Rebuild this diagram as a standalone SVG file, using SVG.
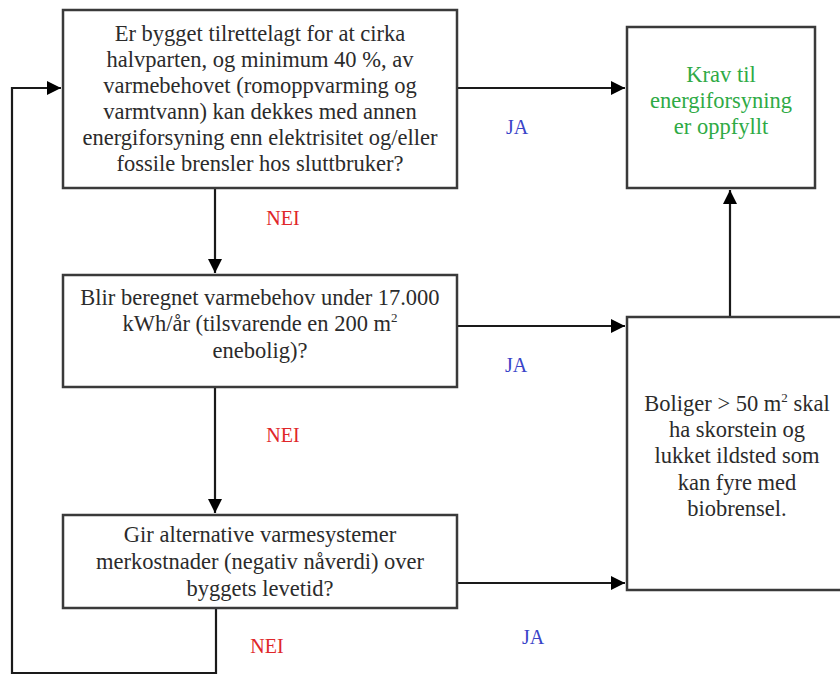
<svg xmlns="http://www.w3.org/2000/svg" width="840" height="675" viewBox="0 0 840 675">
<style>
.box{fill:#fff;stroke:#3a3a3a;stroke-width:2.5}
text{font-family:'Liberation Serif','DejaVu Serif','Times New Roman',serif}
.t{font-size:22.5px;fill:#2b2b2b;text-anchor:middle}
.g{fill:#2eaa45}
.ja{font-size:20px;fill:#3a44c8;text-anchor:middle}
.nei{font-size:20px;fill:#e0262a;text-anchor:middle}
.c{fill:none;stroke:#1a1a1a;stroke-width:2.2}
</style>
<defs>
<marker id="a" viewBox="0 0 12 12" refX="12" refY="6" markerWidth="14" markerHeight="14" markerUnits="userSpaceOnUse" orient="auto">
<path d="M0,0 L12,6 L0,12 z" fill="#000"/>
</marker>
</defs>
<rect width="840" height="675" fill="#fff"/>
<g id="connectors">
<path class="c" d="M457,88 H625" marker-end="url(#a)"/>
<path class="c" d="M215,188 V273" marker-end="url(#a)"/>
<path class="c" d="M457,326 H625" marker-end="url(#a)"/>
<path class="c" d="M730,317 V190" marker-end="url(#a)"/>
<path class="c" d="M215,388 V513" marker-end="url(#a)"/>
<path class="c" d="M457,583 H625" marker-end="url(#a)"/>
<path class="c" d="M216,608 V673 H12 V88 H61" marker-end="url(#a)"/>
</g>
<g id="labels">
<text class="ja" x="517" y="134">JA</text>
<text class="nei" x="283" y="225">NEI</text>
<text class="ja" x="516" y="372">JA</text>
<text class="nei" x="283" y="442">NEI</text>
<text class="ja" x="533" y="644">JA</text>
<text class="nei" x="267" y="653">NEI</text>
</g>
<g id="q1">
<rect class="box" x="63" y="10" width="394" height="178"/>
<text class="t" x="260" y="41">Er bygget tilrettelagt for at cirka</text>
<text class="t" x="260" y="67">halvparten, og minimum 40 %, av</text>
<text class="t" x="260" y="93">varmebehovet (romoppvarming og</text>
<text class="t" x="260" y="119">varmtvann) kan dekkes med annen</text>
<text class="t" x="260" y="145">energiforsyning enn elektrisitet og/eller</text>
<text class="t" x="260" y="171">fossile brensler hos sluttbruker?</text>
</g>
<g id="ok">
<rect class="box" x="627" y="27" width="188" height="161"/>
<text class="t g" x="721" y="82">Krav til</text>
<text class="t g" x="721" y="108">energiforsyning</text>
<text class="t g" x="721" y="134">er oppfyllt</text>
</g>
<g id="q2">
<rect class="box" x="63" y="275" width="394" height="112"/>
<text class="t" x="260" y="305">Blir beregnet varmebehov under 17.000</text>
<text class="t" x="260" y="331">kWh/år (tilsvarende en 200 m<tspan font-size="13" dy="-9">2</tspan></text>
<text class="t" x="260" y="358">enebolig)?</text>
</g>
<g id="req">
<rect class="box" x="627" y="317" width="220" height="273"/>
<text class="t" x="737" y="411">Boliger &gt; 50 m<tspan font-size="13" dy="-9">2</tspan><tspan dy="9"> skal</tspan></text>
<text class="t" x="737" y="437">ha skorstein og</text>
<text class="t" x="737" y="463">lukket ildsted som</text>
<text class="t" x="737" y="490">kan fyre med</text>
<text class="t" x="737" y="516">biobrensel.</text>
</g>
<g id="q3">
<rect class="box" x="63" y="515" width="394" height="93"/>
<text class="t" x="260" y="542">Gir alternative varmesystemer</text>
<text class="t" x="260" y="569">merkostnader (negativ nåverdi) over</text>
<text class="t" x="260" y="596">byggets levetid?</text>
</g>
</svg>
